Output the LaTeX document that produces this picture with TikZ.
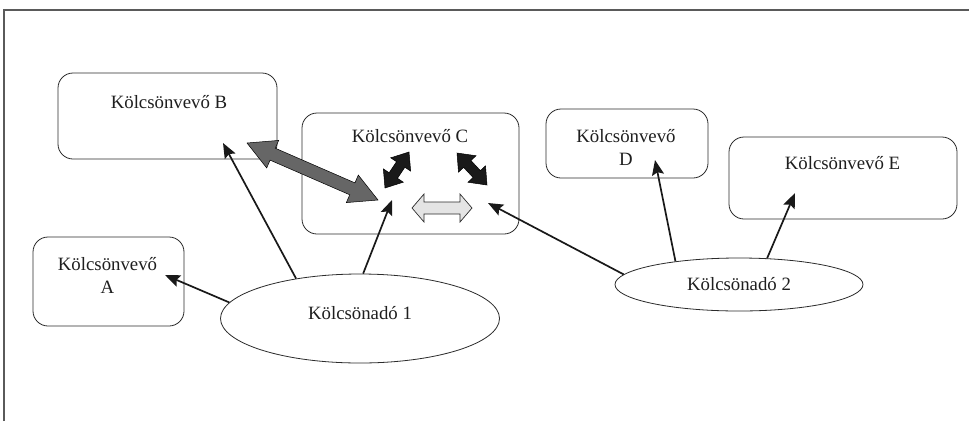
\documentclass[tikz,border=0pt]{standalone}
\usepackage{fontspec}
\setmainfont{Liberation Serif}
\usetikzlibrary{calc,arrows.meta,shapes.geometric}
\definecolor{lineC}{HTML}{2B2B2B}
\definecolor{frameC}{HTML}{5A5A5A}
\definecolor{grayArr}{HTML}{666666}
\definecolor{darkArr}{HTML}{1A1A1A}
\definecolor{lightArr}{HTML}{E4E4E4}
% #1 start, #2 end, #3 shaft half-width, #4 head half-width, #5 head length, #6 style
\newcommand{\blockarr}[6]{%
  \filldraw[#6] (#1)
    -- ($(#1)!#5!(#2)!#4!90:(#2)$) -- ($(#1)!#5!(#2)!#3!90:(#2)$)
    -- ($(#2)!#5!(#1)!#3!-90:(#1)$) -- ($(#2)!#5!(#1)!#4!-90:(#1)$)
    -- (#2)
    -- ($(#2)!#5!(#1)!#4!90:(#1)$) -- ($(#2)!#5!(#1)!#3!90:(#1)$)
    -- ($(#1)!#5!(#2)!#3!-90:(#2)$) -- ($(#1)!#5!(#2)!#4!-90:(#2)$)
    -- cycle;}
\begin{document}
\begin{tikzpicture}[x=1pt,y=-1pt,
  box/.style={draw=lineC, line width=0.8pt, rounded corners=15pt, inner sep=0pt},
  txt/.style={font=\fontsize{18.8}{23.5}\selectfont, align=center, inner sep=0pt, text=black!88},
  ell/.style={ellipse, draw=lineC, line width=0.8pt, inner sep=0pt, font=\fontsize{18.8}{23.5}\selectfont, text=black!88},
  con/.style={draw=black!90, line width=1.7pt, -{Stealth[length=15pt,width=12pt,inset=2.5pt]}},
  blk/.style={draw=black, line width=0.5pt}]
\useasboundingbox (0,0) rectangle (969,421);
\fill[white] (0,0) rectangle (969,421);

% frame
\coordinate (fbl) at (4,421);
\coordinate (ftl) at (4,10);
\coordinate (ftr) at (969,10);
\draw[frameC, line width=1.3pt] (fbl) -- (ftl) -- (ftr);

% boxes
\node[box, minimum width=219pt, minimum height=86pt] (B) at (167.5,116) {};
\node[txt] (Bt) at (169,102) {Kölcsönvevő B};
\node[box, minimum width=217pt, minimum height=121pt] (C) at (410.5,173.5) {};
\node[txt] (Ct) at (410,136) {Kölcsönvevő C};
\node[box, minimum width=151pt, minimum height=89pt] (A) at (108.5,281.5) {};
\node[txt] (At) at (107.5,275.5) {Kölcsönvevő\\A};
\node[box, minimum width=162pt, minimum height=69pt] (D) at (627,143.5) {};
\node[txt] (Dt) at (626,147.5) {Kölcsönvevő\\D};
\node[box, minimum width=228pt, minimum height=82pt] (E) at (843,178) {};
\node[txt] (Et) at (842.5,163) {Kölcsönvevő E};

% ellipses
\node[ell, minimum width=279pt, minimum height=89pt, text depth=12pt] (L1) at (360,318.5) {Kölcsönadó 1};
\node[ell, minimum width=248pt, minimum height=53pt] (L2) at (739,284.5) {Kölcsönadó 2};

% arrow tips (free ends)
\coordinate (tA) at (165,275);
\coordinate (tB) at (223,143);
\coordinate (tC1) at (392,200);
\coordinate (tC2) at (488,203);
\coordinate (tD) at (655,160);
\coordinate (tE) at (795,193);

\draw[con] (L1.173) -- (tA);
\draw[con] (L1.148) -- (tB);
\draw[con] (L1.86) -- (tC1);
\draw[con] (L2.175.5) -- (tC2);
\draw[con] (L2.160) -- (tD);
\draw[con] (L2.43) -- (tE);

% block double arrows
\coordinate (g1) at (247,143);
\coordinate (g2) at (378,200);
\coordinate (k1) at (385,188);
\coordinate (k2) at (409,152);
\coordinate (k3) at (457,153);
\coordinate (k4) at (487,185);
\coordinate (l1) at (412,208);
\coordinate (l2) at (472,208);
\blockarr{g1}{g2}{6.5pt}{15pt}{28pt}{blk, fill=grayArr}
\blockarr{k1}{k2}{5pt}{12pt}{15pt}{blk, fill=darkArr}
\blockarr{k3}{k4}{5pt}{12pt}{15pt}{blk, fill=darkArr}
\blockarr{l1}{l2}{6pt}{14pt}{12pt}{draw=lineC, line width=0.7pt, fill=lightArr}
\end{tikzpicture}
\end{document}
